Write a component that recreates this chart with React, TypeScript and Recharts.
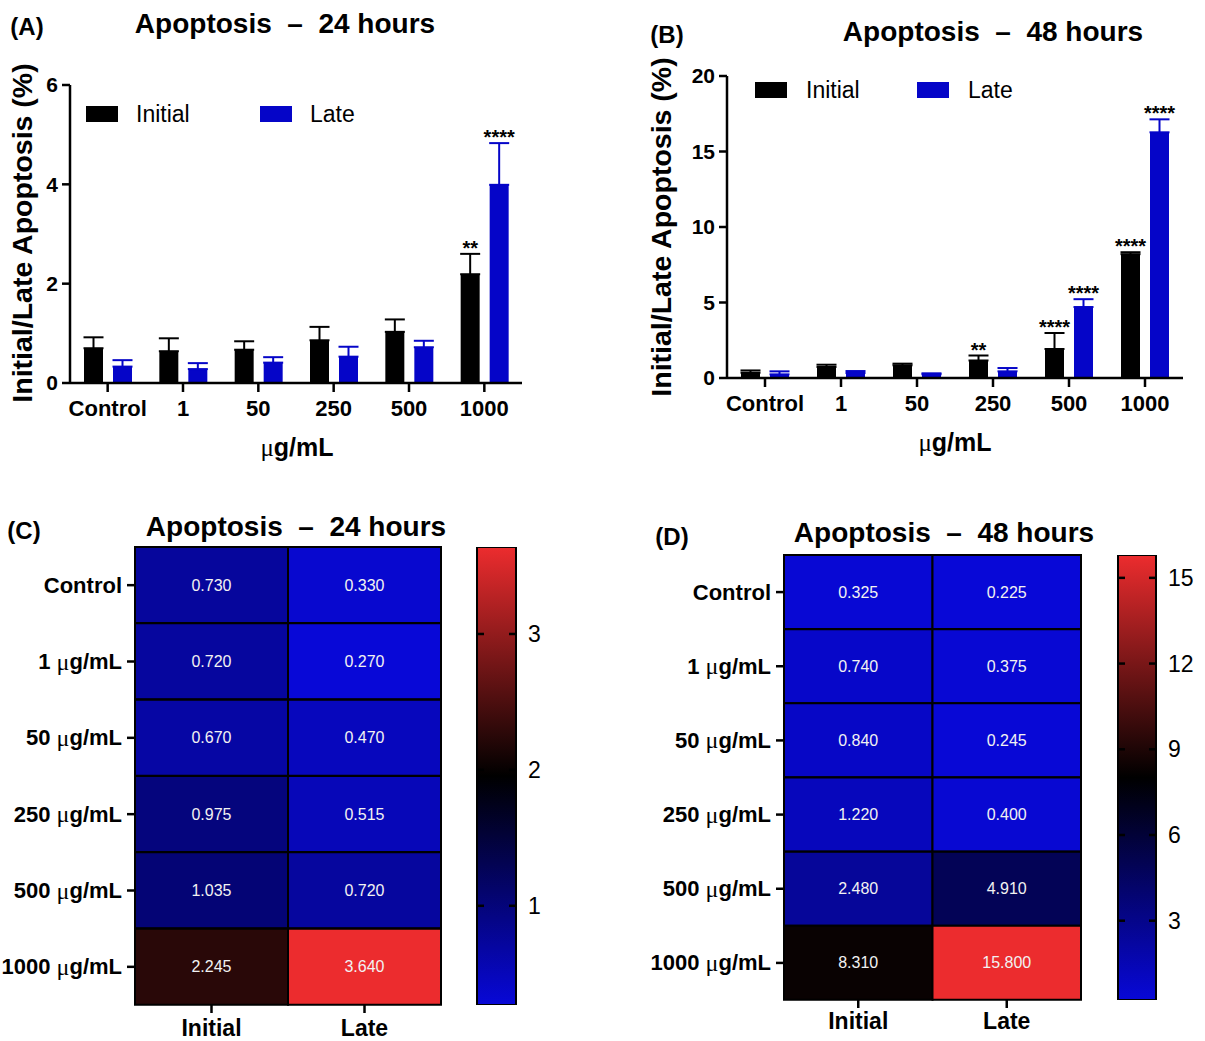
import React from "react";
import {
  BarChart,
  Bar,
  XAxis,
  YAxis,
  ErrorBar,
  LabelList,
  Legend,
  Cell,
} from "recharts";

const FONT = "'Liberation Sans', Arial, sans-serif";

// categories
const doses = ["Control", "1", "50", "250", "500", "1000"];
const columns = ["Initial", "Late"];

// 24 hours bars (mean, upper error, significance)
const initial24 = [0.7, 0.64, 0.67, 0.86, 1.03, 2.19];
const initial24Err = [0.22, 0.26, 0.17, 0.27, 0.25, 0.41];
const initial24Sig = ["", "", "", "", "", "**"];
const late24 = [0.33, 0.28, 0.41, 0.53, 0.72, 3.99];
const late24Err = [0.13, 0.12, 0.11, 0.2, 0.13, 0.84];
const late24Sig = ["", "", "", "", "", "****"];
const yTicks24 = [0, 2, 4, 6];

// 48 hours bars
const initial48 = [0.35, 0.73, 0.84, 1.16, 1.92, 8.2];
const initial48Err = [0.15, 0.15, 0.11, 0.33, 1.06, 0.13];
const initial48Sig = ["", "", "", "**", "****", "****"];
const late48 = [0.24, 0.33, 0.24, 0.44, 4.7, 16.27];
const late48Err = [0.2, 0.13, 0.07, 0.22, 0.52, 0.86];
const late48Sig = ["", "", "", "", "****", "****"];
const yTicks48 = [0, 5, 10, 15, 20];

// heatmap values
const heatInitial24 = [0.73, 0.72, 0.67, 0.975, 1.035, 2.245];
const heatLate24 = [0.33, 0.27, 0.47, 0.515, 0.72, 3.64];
const heatInitial48 = [0.325, 0.74, 0.84, 1.22, 2.48, 8.31];
const heatLate48 = [0.225, 0.375, 0.245, 0.4, 4.91, 15.8];
const scaleTicks24 = [1, 2, 3];
const scaleTicks48 = [3, 6, 9, 12, 15];

const BLUE = [8, 8, 215];
const RED = [236, 44, 46];
const BAR_BLUE = "#0505c8";

function rgb(c: number[]) {
  return `rgb(${c.map((v) => Math.round(v)).join(",")})`;
}

function heatColor(v: number, min: number, max: number) {
  const t = (v - min) / (max - min);
  if (t < 0.5) return rgb(BLUE.map((c) => c * (1 - t * 2)));
  return rgb(RED.map((c) => c * (t * 2 - 1)));
}

const axisStroke = { stroke: "#000", strokeWidth: 2.5 };

function Text({ x, y, size, children, bold = true, rotate = 0 }: any) {
  return (
    <div
      style={{
        position: "absolute",
        left: x,
        top: y,
        transform: `translate(-50%, -50%) rotate(${rotate}deg)`,
        fontFamily: FONT,
        fontSize: size,
        fontWeight: bold ? 700 : 400,
        whiteSpace: "pre",
        lineHeight: 1,
        color: "#000",
      }}
    >
      {children}
    </div>
  );
}

const Mu = () => (
  <span style={{ fontFamily: "'Liberation Serif', serif", fontWeight: 400 }}>μ</span>
);

function legendContent(offsets: number[], textGap: number) {
  return ({ payload }: any) => (
    <div style={{ position: "relative", height: 18 }}>
      {(payload || []).map((item: any, i: number) => (
        <div
          key={item.value}
          style={{
            position: "absolute",
            left: offsets[i],
            top: 0,
            display: "flex",
            alignItems: "center",
            whiteSpace: "nowrap",
          }}
        >
          <span style={{ display: "inline-block", width: 32, height: 16, background: item.color }} />
          <span
            style={{
              marginLeft: textGap,
              fontSize: 23,
              fontFamily: FONT,
              color: "#000",
              lineHeight: "16px",
            }}
          >
            {item.value}
          </span>
        </div>
      ))}
    </div>
  );
}

function starLabel(means: number[], errs: number[]) {
  return (props: any) => {
    const vb = props.viewBox && props.viewBox.width !== undefined ? props.viewBox : props;
    const { x, y, width, height } = vb;
    const i = props.index;
    if (!props.value) return null;
    const perUnit = Number(height) / means[i];
    const errTop = Number(y) - errs[i] * perUnit;
    return (
      <text
        x={Number(x) + Number(width) / 2}
        y={errTop + 1}
        textAnchor="middle"
        fontFamily={FONT}
        fontWeight={700}
        fontSize={20}
        fill="#000"
      >
        {props.value}
      </text>
    );
  };
}

function ApoptosisBars(p: any) {
  const data = doses.map((dose, i) => ({
    dose,
    initial: p.initial[i],
    initialErr: p.initialErr[i],
    initialSig: p.initialSig[i],
    late: p.late[i],
    lateErr: p.lateErr[i],
    lateSig: p.lateSig[i],
  }));
  const yMax = p.yTicks[p.yTicks.length - 1];
  return (
    <BarChart
      width={p.width}
      height={p.height}
      data={data}
      margin={p.margin}
      barSize={19}
      barGap={10}
    >
      <XAxis
        dataKey="dose"
        interval={0}
        height={40}
        axisLine={axisStroke}
        tickLine={axisStroke}
        tickSize={9}
        tickMargin={8}
        tick={{ fill: "#000", fontSize: 22, fontWeight: 700, fontFamily: FONT }}
      />
      <YAxis
        type="number"
        domain={[0, yMax]}
        ticks={p.yTicks}
        width={p.yAxisWidth}
        axisLine={axisStroke}
        tickLine={axisStroke}
        tickSize={8}
        tickMargin={4}
        tick={{ fill: "#000", fontSize: 21, fontWeight: 700, fontFamily: FONT }}
      />
      <Legend
        layout="horizontal"
        verticalAlign="middle"
        align="center"
        content={legendContent(p.legendOffsets, p.legendGap)}
        wrapperStyle={{ left: p.legendLeft, top: p.legendTop, width: 400 }}
      />
      <Bar dataKey="initial" name="Initial" fill="#000" isAnimationActive={false}>
        <ErrorBar
          dataKey={(d: any) => [0, d.initialErr]}
          direction="y"
          width={10}
          stroke="#000"
          strokeWidth={2}
        />
        <LabelList dataKey="initialSig" content={starLabel(p.initial, p.initialErr)} />
      </Bar>
      <Bar dataKey="late" name="Late" fill={BAR_BLUE} isAnimationActive={false}>
        <ErrorBar
          dataKey={(d: any) => [0, d.lateErr]}
          direction="y"
          width={10}
          stroke={BAR_BLUE}
          strokeWidth={2}
        />
        <LabelList dataKey="lateSig" content={starLabel(p.late, p.lateErr)} />
      </Bar>
    </BarChart>
  );
}

const RowTick = (props: any) => {
  const { x, y, payload } = props;
  const d = payload.value;
  return (
    <text
      x={x}
      y={y}
      textAnchor="end"
      dominantBaseline="central"
      fontFamily={FONT}
      fontWeight={700}
      fontSize={22}
      fill="#000"
    >
      {d === "Control" ? (
        "Control"
      ) : (
        <>
          {d + " "}
          <tspan fontFamily="'Liberation Serif', serif" fontWeight={400} fontSize={24}>
            μ
          </tspan>
          g/mL
        </>
      )}
    </text>
  );
};

function cellLabel(props: any) {
  const vb = props.viewBox && props.viewBox.width !== undefined ? props.viewBox : props;
  const { x, y, width, height } = vb;
  return (
    <text
      x={Number(x) + Number(width) / 2}
      y={Number(y) + Number(height) / 2}
      textAnchor="middle"
      dominantBaseline="central"
      fontFamily={FONT}
      fontSize={16}
      fill="#f2f2f2"
    >
      {Number(props.value).toFixed(3)}
    </text>
  );
}

const unitCell = () => 1;
const unitCell2 = () => 1;

function Heatmap(p: any) {
  const data = doses.map((row, i) => ({ row, initial: p.initial[i], late: p.late[i] }));
  return (
    <BarChart
      layout="vertical"
      width={p.width}
      height={p.height}
      data={data}
      margin={p.margin}
      barCategoryGap={0}
      barGap={0}
    >
      <XAxis
        type="number"
        domain={[0, 2]}
        ticks={[0.5, 1.5]}
        tickFormatter={(v: number) => columns[Math.floor(v)]}
        height={p.xAxisHeight}
        axisLine={false}
        tickLine={axisStroke}
        tickSize={8}
        tickMargin={p.xTickMargin}
        tick={{ fill: "#000", fontSize: 23, fontWeight: 700, fontFamily: FONT }}
      />
      <YAxis
        type="category"
        dataKey="row"
        width={p.yAxisWidth}
        axisLine={false}
        tickLine={axisStroke}
        tickSize={8}
        tickMargin={5}
        tick={<RowTick />}
      />
      <Bar
        id="initialCells"
        dataKey={unitCell}
        stackId="cells"
        stroke="#000"
        strokeWidth={2}
        isAnimationActive={false}
      >
        {data.map((d, i) => (
          <Cell key={`i-${i}`} fill={heatColor(d.initial, p.min, p.max)} />
        ))}
        <LabelList dataKey="initial" content={cellLabel} />
      </Bar>
      <Bar
        id="lateCells"
        dataKey={unitCell2}
        stackId="cells"
        stroke="#000"
        strokeWidth={2}
        isAnimationActive={false}
      >
        {data.map((d, i) => (
          <Cell key={`l-${i}`} fill={heatColor(d.late, p.min, p.max)} />
        ))}
        <LabelList dataKey="late" content={cellLabel} />
      </Bar>
    </BarChart>
  );
}

function scaleTick(barWidth: number) {
  return (props: any) => {
    const { x, y, payload } = props;
    return (
      <g>
        <line x1={x - 7} y1={y} x2={x} y2={y} stroke="#000" strokeWidth={2.5} />
        <line x1={x - barWidth} y1={y} x2={x - barWidth + 7} y2={y} stroke="#000" strokeWidth={2.5} />
        <text
          x={x + 12}
          y={y}
          dominantBaseline="central"
          fontFamily={FONT}
          fontSize={23}
          fill="#000"
        >
          {payload.value}
        </text>
      </g>
    );
  };
}

function ColorScale(p: any) {
  const data = [{ name: "scale", range: [p.min, p.max] }];
  return (
    <BarChart width={p.width} height={p.height} data={data} margin={p.margin} barCategoryGap={0}>
      <defs>
        <linearGradient id={p.gradId} x1="0" y1="0" x2="0" y2="1">
          <stop offset="0%" stopColor={rgb(RED)} />
          <stop offset="50%" stopColor="#000" />
          <stop offset="100%" stopColor={rgb(BLUE)} />
        </linearGradient>
      </defs>
      <XAxis dataKey="name" hide />
      <YAxis
        type="number"
        orientation="right"
        domain={[p.min, p.max]}
        allowDataOverflow
        ticks={p.ticks}
        width={p.axisWidth}
        axisLine={false}
        tickLine={false}
        tickSize={0}
        tickMargin={0}
        tick={scaleTick(p.barWidth)}
      />
      <Bar
        dataKey="range"
        fill={`url(#${p.gradId})`}
        stroke="#000"
        strokeWidth={2}
        isAnimationActive={false}
      />
    </BarChart>
  );
}

const abs = (left: number, top: number): React.CSSProperties => ({
  position: "absolute",
  left,
  top,
});

export default function App() {
  return (
    <div
      style={{
        position: "absolute",
        left: 0,
        top: 0,
        width: 1205,
        height: 1041,
        background: "#fff",
        overflow: "hidden",
      }}
    >
      {/* (A) */}
      <div style={abs(0, 0)}>
        <ApoptosisBars
          width={600}
          height={470}
          margin={{ top: 85, right: 78, bottom: 47, left: 10 }}
          yAxisWidth={60}
          initial={initial24}
          initialErr={initial24Err}
          initialSig={initial24Sig}
          late={late24}
          lateErr={late24Err}
          lateSig={late24Sig}
          yTicks={yTicks24}
          legendLeft={86}
          legendTop={106}
          legendOffsets={[0, 174]}
          legendGap={18}
        />
      </div>
      {/* (B) */}
      <div style={abs(600, 0)}>
        <ApoptosisBars
          width={605}
          height={470}
          margin={{ top: 76, right: 22, bottom: 52, left: 67 }}
          yAxisWidth={60}
          initial={initial48}
          initialErr={initial48Err}
          initialSig={initial48Sig}
          late={late48}
          lateErr={late48Err}
          lateSig={late48Sig}
          yTicks={yTicks48}
          legendLeft={155}
          legendTop={82}
          legendOffsets={[0, 162]}
          legendGap={19}
        />
      </div>
      {/* (C) */}
      <div style={abs(0, 537)}>
        <Heatmap
          width={460}
          height={504}
          margin={{ top: 10, right: 19, bottom: 6, left: 0 }}
          yAxisWidth={135}
          xAxisHeight={30}
          xTickMargin={7}
          initial={heatInitial24}
          late={heatLate24}
          min={0.27}
          max={3.64}
        />
      </div>
      <div style={abs(470, 537)}>
        <ColorScale
          width={100}
          height={478}
          margin={{ top: 10, right: 0, bottom: 10, left: 7 }}
          axisWidth={54}
          barWidth={39}
          min={0.27}
          max={3.64}
          ticks={scaleTicks24}
          gradId="grad24"
        />
      </div>
      {/* (D) */}
      <div style={abs(600, 545)}>
        <Heatmap
          width={500}
          height={496}
          margin={{ top: 10, right: 19, bottom: 6, left: 0 }}
          yAxisWidth={184}
          xAxisHeight={35}
          xTickMargin={5}
          initial={heatInitial48}
          late={heatLate48}
          min={0.225}
          max={15.8}
        />
      </div>
      <div style={abs(1111, 545)}>
        <ColorScale
          width={94}
          height={465}
          margin={{ top: 10, right: 0, bottom: 10, left: 7 }}
          axisWidth={49}
          barWidth={38}
          min={0.225}
          max={15.8}
          ticks={scaleTicks48}
          gradId="grad48"
        />
      </div>

      <Text x={27} y={27} size={24}>(A)</Text>
      <Text x={285} y={24} size={28}>{"Apoptosis  –  24 hours"}</Text>
      <Text x={22} y={233} size={28.5} rotate={-90}>Initial/Late Apoptosis (%)</Text>
      <Text x={297} y={447} size={25}>
        <Mu />g/mL
      </Text>

      <Text x={667} y={35} size={24}>(B)</Text>
      <Text x={993} y={32} size={28}>{"Apoptosis  –  48 hours"}</Text>
      <Text x={661} y={227} size={28.5} rotate={-90}>Initial/Late Apoptosis (%)</Text>
      <Text x={955} y={442} size={25}>
        <Mu />g/mL
      </Text>

      <Text x={24} y={531} size={24}>(C)</Text>
      <Text x={296} y={527} size={28}>{"Apoptosis  –  24 hours"}</Text>

      <Text x={672} y={537} size={24}>(D)</Text>
      <Text x={944} y={533} size={28}>{"Apoptosis  –  48 hours"}</Text>
    </div>
  );
}
